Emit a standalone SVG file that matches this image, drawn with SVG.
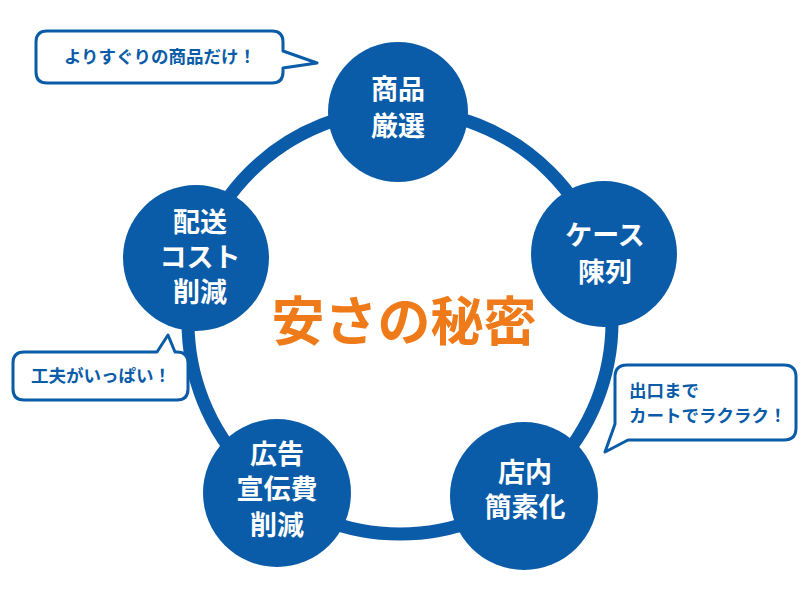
<svg xmlns="http://www.w3.org/2000/svg" width="804" height="610" viewBox="0 0 804 610">
<style>
.node{fill:#0a5ca8}
.nt{font-family:"Noto Sans CJK JP","Noto Sans",sans-serif;font-weight:bold;font-size:27px;fill:#ffffff;text-anchor:middle}
.bub{fill:#ffffff;stroke:#0a5ca8;stroke-width:3;stroke-linejoin:round}
.bt{font-family:"Noto Sans CJK JP","Noto Sans",sans-serif;font-weight:bold;font-size:17.5px;fill:#0a5ca8}
.ring{fill:none;stroke:#0a5ca8;stroke-width:13}
</style>
<rect width="804" height="610" fill="#ffffff"/>
<g id="connectors">
<circle class="ring" cx="400" cy="322" r="212"/>
</g>
<g id="center-title">
<text x="404" y="341" text-anchor="middle" font-family="'Noto Sans CJK JP','Noto Sans',sans-serif" font-weight="bold" font-size="53" fill="#ee7a1a">安さの秘密</text>
</g>
<g id="node-shohin">
<circle class="node" cx="398" cy="112" r="70"/>
<text class="nt" x="398" y="99">商品</text>
<text class="nt" x="398" y="136">厳選</text>
</g>
<g id="node-case">
<circle class="node" cx="604" cy="254" r="73"/>
<text class="nt" x="605" y="245">ケース</text>
<text class="nt" x="605" y="282">陳列</text>
</g>
<g id="node-tennai">
<circle class="node" cx="524" cy="496" r="74"/>
<text class="nt" x="525" y="482">店内</text>
<text class="nt" x="525" y="517">簡素化</text>
</g>
<g id="node-kokoku">
<circle class="node" cx="277" cy="493" r="74"/>
<text class="nt" x="277" y="464">広告</text>
<text class="nt" x="277" y="499">宣伝費</text>
<text class="nt" x="277" y="535">削減</text>
</g>
<g id="node-haiso">
<circle class="node" cx="196" cy="258" r="73"/>
<text class="nt" x="200" y="232">配送</text>
<text class="nt" x="200" y="267">コスト</text>
<text class="nt" x="200" y="302">削減</text>
</g>
<g id="bubble-shohin">
<path class="bub" d="M47 31 H272 Q283 31 283 42 V51 L317 63 L283 68 V72 Q283 83 272 83 H47 Q36 83 36 72 V42 Q36 31 47 31 Z"/>
<text class="bt" x="160" y="63" text-anchor="middle">よりすぐりの商品だけ！</text>
</g>
<g id="bubble-kufu">
<path class="bub" d="M24 352 H157 L168 335 L175 352 H177 Q188 352 188 363 V389 Q188 400 177 400 H24 Q13 400 13 389 V363 Q13 352 24 352 Z"/>
<text class="bt" x="101" y="382" text-anchor="middle">工夫がいっぱい！</text>
</g>
<g id="bubble-cart">
<path class="bub" d="M627 365 H784 Q796 365 796 377 V428 Q796 440 784 440 H628 L605 452 L615 424 V377 Q615 365 627 365 Z"/>
<text class="bt" x="629" y="397">出口まで</text>
<text class="bt" x="629" y="422">カートでラクラク！</text>
</g>
</svg>
